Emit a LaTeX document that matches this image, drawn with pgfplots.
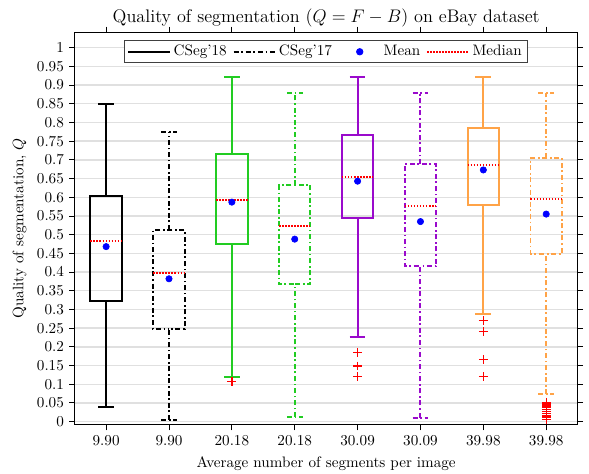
\documentclass[border=0pt]{standalone}
\usepackage{pgfplots}
\pgfplotsset{compat=1.18}
\definecolor{cgreen}{HTML}{22CC22}
\definecolor{cpurple}{HTML}{9A0ACC}
\definecolor{corange}{HTML}{FFA347}
\definecolor{cgrid}{HTML}{E0E0E0}
\tikzset{ddot/.style={dash pattern=on 3.3pt off 1.8pt on 1.1pt off 1.8pt}}
\pgfplotsset{
  bx/.style={line width=1.3pt, line join=miter},
  med/.style={red, line width=1.2pt, dash pattern=on 1pt off 1pt},
  outl/.style={only marks, mark=+, red, mark size=2.9pt, mark options={red, line width=0.9pt, solid}},
}
\begin{document}
\begin{tikzpicture}
\begin{axis}[
  scale only axis,
  width=332pt, height=259.4pt,
  xmin=0.5, xmax=8.5,
  ymin=-0.0088, ymax=1.042,
  unbounded coords=jump,
  xtick={1,2,3,4,5,6,7,8},
  xticklabels={9.90,9.90,20.18,20.18,30.09,30.09,39.98,39.98},
  ytick={0,0.05,...,1.01},
  yticklabel style={/pgf/number format/fixed,/pgf/number format/precision=2},
  tick pos=both,
  tick align=outside,
  major tick length=3.6pt,
  every tick/.style={black, line width=0.6pt},
  ymajorgrids,
  grid style={cgrid, line width=0.9pt},
  axis line style={line width=0.6pt},
  title style={font=\large, yshift=-6pt},
  title={Quality of segmentation ($Q = F - B$) on eBay dataset},
  xlabel={Average number of segments per image},
  ylabel={Quality of segmentation, $Q$},
  legend columns=4,
  legend cell align=left,
  legend style={at={(0.5,1)}, anchor=north, yshift=-5.5pt, draw=black!75, line width=0.6pt,
    inner xsep=2pt, inner ysep=0.5pt,
    nodes={inner xsep=2pt, inner ysep=2.5pt},
    /tikz/every even column/.append style={column sep=2pt}},
]
\coordinate (bl) at (rel axis cs:0,0);
\coordinate (tr) at (rel axis cs:1,1);
\addlegendimage{legend image code/.code={\draw[black, line width=1pt] (0pt,0pt) -- (27.5pt,0pt);}}
\addlegendentry{CSeg'18}
\addlegendimage{legend image code/.code={\draw[black, line width=1pt, ddot] (0pt,0pt) -- (27.5pt,0pt);}}
\addlegendentry{CSeg'17}
\addlegendimage{legend image code/.code={\path (0pt,0pt) (27.5pt,0pt); \fill[blue] (14pt,0pt) circle (2.1pt);}}
\addlegendentry{Mean}
\addlegendimage{legend image code/.code={\draw[red, line width=1pt, dash pattern=on 1pt off 1pt] (0pt,0pt) -- (27.5pt,0pt);}}
\addlegendentry{Median}

% ---- box 1: CSeg'18, 9.90
\addplot[forget plot, bx, black] coordinates {
 (1,0.039) (1,0.322) (1.25,0.322) (1.25,0.603) (0.75,0.603) (0.75,0.322) (1,0.322)
 (0,nan) (1,0.603) (1,0.850) (0,nan) (0.875,0.850) (1.125,0.850) (0,nan) (0.875,0.039) (1.125,0.039)};
\addplot[forget plot, med] coordinates {(0.75,0.482) (1.25,0.482)};
% ---- box 2: CSeg'17, 9.90
\addplot[forget plot, bx, black, ddot] coordinates {
 (2,0.005) (2,0.247) (2.25,0.247) (2.25,0.513) (1.75,0.513) (1.75,0.247) (2,0.247)
 (0,nan) (2,0.513) (2,0.774) (0,nan) (1.875,0.774) (2.125,0.774) (0,nan) (1.875,0.005) (2.125,0.005)};
\addplot[forget plot, med] coordinates {(1.75,0.397) (2.25,0.397)};
% ---- box 3: CSeg'18, 20.18
\addplot[forget plot, bx, cgreen] coordinates {
 (3,0.119) (3,0.474) (3.25,0.474) (3.25,0.716) (2.75,0.716) (2.75,0.474) (3,0.474)
 (0,nan) (3,0.716) (3,0.922) (0,nan) (2.875,0.922) (3.125,0.922) (0,nan) (2.875,0.119) (3.125,0.119)};
\addplot[forget plot, med] coordinates {(2.75,0.592) (3.25,0.592)};
\addplot[forget plot, outl] coordinates {(3,0.107)};
% ---- box 4: CSeg'17, 20.18
\addplot[forget plot, bx, cgreen, ddot] coordinates {
 (4,0.012) (4,0.367) (4.25,0.367) (4.25,0.632) (3.75,0.632) (3.75,0.367) (4,0.367)
 (0,nan) (4,0.632) (4,0.879) (0,nan) (3.875,0.879) (4.125,0.879) (0,nan) (3.875,0.012) (4.125,0.012)};
\addplot[forget plot, med] coordinates {(3.75,0.524) (4.25,0.524)};
% ---- box 5: CSeg'18, 30.09
\addplot[forget plot, bx, cpurple] coordinates {
 (5,0.227) (5,0.545) (5.25,0.545) (5.25,0.767) (4.75,0.767) (4.75,0.545) (5,0.545)
 (0,nan) (5,0.767) (5,0.922) (0,nan) (4.875,0.922) (5.125,0.922) (0,nan) (4.875,0.227) (5.125,0.227)};
\addplot[forget plot, med] coordinates {(4.75,0.655) (5.25,0.655)};
\addplot[forget plot, outl] coordinates {(5,0.185) (5,0.149) (5,0.120)};
% ---- box 6: CSeg'17, 30.09
\addplot[forget plot, bx, cpurple, ddot] coordinates {
 (6,0.011) (6,0.415) (6.25,0.415) (6.25,0.689) (5.75,0.689) (5.75,0.415) (6,0.415)
 (0,nan) (6,0.689) (6,0.879) (0,nan) (5.875,0.879) (6.125,0.879) (0,nan) (5.875,0.011) (6.125,0.011)};
\addplot[forget plot, med] coordinates {(5.75,0.577) (6.25,0.577)};
% ---- box 7: CSeg'18, 39.98
\addplot[forget plot, bx, corange] coordinates {
 (7,0.289) (7,0.580) (7.25,0.580) (7.25,0.785) (6.75,0.785) (6.75,0.580) (7,0.580)
 (0,nan) (7,0.785) (7,0.922) (0,nan) (6.875,0.922) (7.125,0.922) (0,nan) (6.875,0.289) (7.125,0.289)};
\addplot[forget plot, med] coordinates {(6.75,0.686) (7.25,0.686)};
\addplot[forget plot, outl] coordinates {(7,0.270) (7,0.241) (7,0.167) (7,0.121)};
% ---- box 8: CSeg'17, 39.98
\addplot[forget plot, bx, corange, ddot] coordinates {
 (8,0.073) (8,0.448) (8.25,0.448) (8.25,0.705) (7.75,0.705) (7.75,0.448) (8,0.448)
 (0,nan) (8,0.705) (8,0.879) (0,nan) (7.875,0.879) (8.125,0.879) (0,nan) (7.875,0.073) (8.125,0.073)};
\addplot[forget plot, med] coordinates {(7.75,0.595) (8.25,0.595)};
\addplot[forget plot, outl] coordinates {(8,0.052) (8,0.047) (8,0.042) (8,0.037) (8,0.032) (8,0.027) (8,0.022) (8,0.017) (8,0.012) (8,0.006)};

% ---- means
\addplot[forget plot, only marks, mark=*, blue, mark size=2.1pt] coordinates {
  (1,0.468) (2,0.382) (3,0.587) (4,0.488) (5,0.643) (6,0.535) (7,0.673) (8,0.555)};
\end{axis}
\pgfresetboundingbox
\path[use as bounding box] ([shift={(-49.3pt,-32.3pt)}]bl) rectangle ([shift={(7.5pt,21.1pt)}]tr);
\end{tikzpicture}
\end{document}
